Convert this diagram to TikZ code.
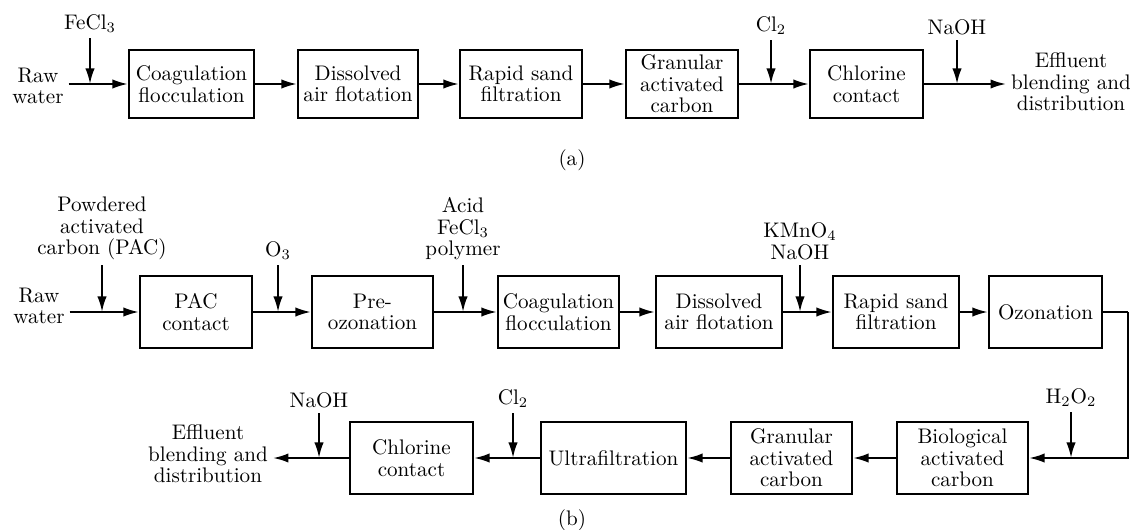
\documentclass[tikz,border=0pt]{standalone}
\usetikzlibrary{arrows.meta}
\def\pxu{0.4835pt}
\begin{document}
\begin{tikzpicture}[x=0.4835pt,y=-0.4835pt,line width=1pt,>={Latex[length=7.5pt,width=4.5pt]}]
\tikzstyle{every node}+=[font=\fontsize{10.2}{10.4}\selectfont,align=center]
\tikzstyle{unita}=[draw,inner sep=0pt,minimum height=68*\pxu]
\tikzstyle{unitb}=[draw,inner sep=0pt,minimum height=72*\pxu]
\tikzstyle{tag}=[inner sep=2pt]
\useasboundingbox (0,0) rectangle (1130,529);
\node [tag] (rawa) at (38,86) {Raw\\water};
\node [unita,minimum width=125*\pxu] (coaga) at (191.5,84) {Coagulation\\flocculation};
\node [unita,minimum width=120*\pxu] (dafa) at (358,84) {Dissolved\\air flotation};
\node [unita,minimum width=122*\pxu] (rsfa) at (521,84) {Rapid sand\\filtration};
\node [unita,minimum width=112*\pxu] (gaca) at (682,84) {Granular\\activated\\carbon};
\node [unita,minimum width=113*\pxu] (chla) at (866.5,84) {Chlorine\\contact};
\node [tag] (effa) at (1071,82) {Effluent\\blending and\\distribution};
\node [tag,above] (fea) at (90,38) {FeCl$_3$};
\node [tag,above] (cla) at (771,40) {Cl$_2$};
\node [tag,above] (naa) at (957,40) {NaOH};
\node (capa) at (572,160) {(a)};
\draw [->] (rawa.east |- coaga.west) -- (coaga.west);
\draw [->] (fea.south) -- (fea.south |- coaga.west);
\draw [->] (coaga) -- (dafa);
\draw [->] (dafa) -- (rsfa);
\draw [->] (rsfa) -- (gaca);
\draw [->] (gaca) -- (chla);
\draw [->] (cla.south) -- (cla.south |- chla.west);
\draw [->] (chla) -- (chla.east -| effa.west);
\draw [->] (naa.south) -- (naa.south |- chla.east);
\node [tag] (rawb) at (39,306) {Raw\\water};
\node [unitb,minimum width=112*\pxu] (pacb) at (196,312) {PAC\\contact};
\node [unitb,minimum width=121*\pxu] (preb) at (372.5,312) {Pre-\\ozonation};
\node [unitb,minimum width=121*\pxu] (coagb) at (558.5,312) {Coagulation\\flocculation};
\node [unitb,minimum width=126*\pxu] (dafb) at (719,312) {Dissolved\\air flotation};
\node [unitb,minimum width=126*\pxu] (rsfb) at (896,312) {Rapid sand\\filtration};
\node [unitb,minimum width=113*\pxu] (ozb) at (1045.5,312) {Ozonation};
\node [tag,above] (pacin) at (102,265) {Powdered\\activated\\carbon (PAC)};
\node [tag,above] (o3b) at (278,265) {O$_3$};
\node [tag,above] (acidb) at (463,265) {Acid\\FeCl$_3$\\polymer};
\node [tag,above] (kmnb) at (800,265) {KMnO$_4$\\NaOH};
\coordinate (turn) at (1128,312);
\node [unitb,minimum width=131*\pxu] (bacc) at (962.5,458) {Biological\\activated\\carbon};
\node [unitb,minimum width=121*\pxu] (gacc) at (791.5,458) {Granular\\activated\\carbon};
\node [unitb,minimum width=145*\pxu] (ufc) at (613.5,458) {Ultrafiltration};
\node [unitb,minimum width=123*\pxu] (chlc) at (411.5,458) {Chlorine\\contact};
\node [tag] (effc) at (208,454) {Effluent\\blending and\\distribution};
\node [tag,above] (h2o2c) at (1071,412) {H$_2$O$_2$};
\node [tag,above] (clc) at (513,413) {Cl$_2$};
\node [tag,above] (nac) at (319,413) {NaOH};
\node (capb) at (572,520) {(b)};
\draw [->] (rawb.east |- pacb.west) -- (pacb.west);
\draw [->] (pacin.south) -- (pacin.south |- pacb.west);
\draw [->] (pacb) -- (preb);
\draw [->] (o3b.south) -- (o3b.south |- preb.west);
\draw [->] (preb) -- (coagb);
\draw [->] (acidb.south) -- (acidb.south |- coagb.west);
\draw [->] (coagb) -- (dafb);
\draw [->] (dafb) -- (rsfb);
\draw [->] (kmnb.south) -- (kmnb.south |- rsfb.west);
\draw [->] (rsfb) -- (ozb);
\draw (ozb) -- (turn);
\draw [->] (turn) |- (bacc);
\draw [->] (h2o2c.south) -- (h2o2c.south |- bacc.east);
\draw [->] (bacc) -- (gacc);
\draw [->] (gacc) -- (ufc);
\draw [->] (ufc) -- (chlc);
\draw [->] (clc.south) -- (clc.south |- chlc.east);
\draw [->] (chlc) -- (chlc.west -| effc.east);
\draw [->] (nac.south) -- (nac.south |- chlc.west);
\end{tikzpicture}
\end{document}
